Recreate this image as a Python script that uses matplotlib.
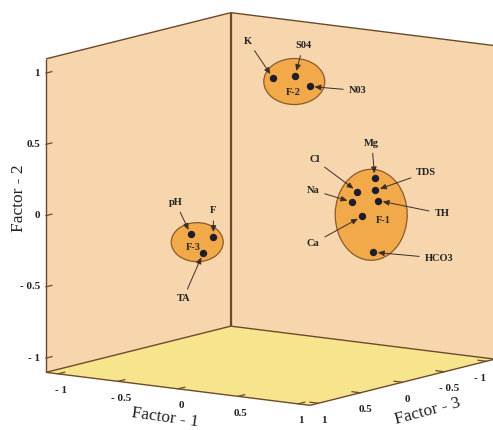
import numpy as np
import matplotlib
matplotlib.use('Agg')
import matplotlib.pyplot as plt
from matplotlib.patches import Polygon, Ellipse

# factor loadings (Factor-1, Factor-2, Factor-3)
names = ['Mg', 'Cl', 'TDS', 'Na', 'TH', 'Ca', 'HCO3',
         'K', 'S04', 'N03',
         'pH', 'F', 'TA']
f1 = [0.94, 0.76, 0.93, 0.68, 0.98, 0.80, 0.96,
      0.05, 0.15, 0.25,
      -0.07, 0.05, 0.00]
f2 = [0.33, 0.21, 0.24, 0.12, 0.18, 0.04, -0.18,
      0.93, 0.94, 0.87,
      -0.06, -0.08, -0.19]
f3 = [0.10, 0.05, 0.08, 0.00, 0.12, 0.05, 0.15,
      0.04, -0.08, -0.11,
      0.85, 0.75, 0.80]

groups = ['F-1', 'F-2', 'F-3']
group_f1 = [0.91, 0.15, -0.05]
group_f2 = [0.07, 0.90, -0.12]
group_f3 = [0.10, -0.07, 0.80]

ticks = [-1, -0.5, 0, 0.5, 1]
tick_labels = ['- 1', '- 0.5', '0', '0.5', '1']

# label offsets (pixels) from the points
lab_dx = [-3, -43, 51, -39, 64, -49, 66, -25, 8, 48, -15, 0, -20]
lab_dy = [-35, -32, -18, -12, 13, 27, 6, -37, -30, 4, -32, -26, 46]
ell_w = [72, 61, 52]
ell_h = [91, 46, 39]

L = 1.1
WALL = '#f7d6ae'
FLOOR = '#f6e58c'
BLOB = '#f2a94a'
EDGE = '#6b4a2a'
serif = ['Liberation Serif', 'DejaVu Serif']


def proj(a, b, c):
    # pseudo 3D view: screen pixels from (factor1, factor2, factor3)
    a, b, c = np.asarray(a, float), np.asarray(b, float), np.asarray(c, float)
    x = 270.4 + 120 * a - 84 * c
    y = 209 + 15 * a + 21 * c - 142.5 * b
    return x, y


fig = plt.figure(figsize=(4.93, 4.30), dpi=100)
ax = fig.add_axes([0, 0, 1, 1])
ax.set_xlim(0, 493)
ax.set_ylim(430, 0)
ax.axis('off')

left = proj([-L, -L, -L, -L], [-L, L, L, -L], [L, L, -L, -L])
right = proj([-L, -L, L, L], [-L, L, L, -L], [-L, -L, -L, -L])
floor = proj([-L, L, L, -L], [-L, -L, -L, -L], [L, L, -L, -L])
for (px, py), col in [(left, WALL), (right, WALL), (floor, FLOOR)]:
    ax.add_patch(Polygon(np.column_stack([px, py]), closed=True,
                         facecolor=col, edgecolor='none'))

# box edges
edges = [((-L, -L, L), (-L, L, L), 1.0), ((-L, L, L), (-L, L, -L), 1.0),
         ((-L, L, -L), (L, L, -L), 1.0), ((-L, -L, -L), (-L, L, -L), 1.6),
         ((-L, -L, L), (-L, -L, -L), 1.0), ((-L, -L, -L), (L, -L, -L), 1.0),
         ((-L, -L, L), (L, -L, L), 1.0), ((L, -L, L), (L, -L, -L), 1.0)]
for p, q, lw in edges:
    ex, ey = proj([p[0], q[0]], [p[1], q[1]], [p[2], q[2]])
    ax.plot(ex, ey, color=EDGE, lw=lw, solid_capstyle='butt')

# ticks and tick labels
for t, tl in zip(ticks, tick_labels):
    # factor 2 on left edge
    tx, ty = proj([-L, -L], [t, t], [L, L - 0.07])
    ax.plot(tx, ty, color=EDGE, lw=0.9)
    ax.text(tx[0] - 6, ty[0], tl, ha='right', va='center', fontsize=8,
            fontweight='bold', family=serif, color='#222222')
    # factor 1 along front-left floor edge
    tx, ty = proj([t, t], [-L, -L], [L, L - 0.08])
    ax.plot(tx, ty, color=EDGE, lw=0.9)
    ax.text(tx[0] + 3, ty[0] + 17, tl, ha='center', va='center', fontsize=8,
            fontweight='bold', family=serif, color='#222222')
    # factor 3 along front-right floor edge (tick labels reversed: 1 at front)
    tx, ty = proj([L, L - 0.07], [-L, -L], [t, t])
    ax.plot(tx, ty, color=EDGE, lw=0.9)
    lx = min(tx[0] + 5, 480)
    ax.text(lx, ty[0] + 17, tl, ha='center', va='center', fontsize=8,
            fontweight='bold', family=serif, color='#222222')

ax.text(19, 198, 'Factor - 2', rotation=90, ha='center', va='center',
        fontsize=12.5, family=serif, color='#222222')
ax.text(165, 418, 'Factor - 1', rotation=-8, ha='center', va='center',
        fontsize=12.5, family=serif, color='#222222')
ax.text(428, 411, 'Factor - 3', rotation=15, ha='center', va='center',
        fontsize=12.5, family=serif, color='#222222')

# group ellipses
gx, gy = proj(group_f1, group_f2, group_f3)
gl_dx = [12, -1, -4]
gl_dy = [6, 11, 5]
for i, g in enumerate(groups):
    ax.add_patch(Ellipse((gx[i], gy[i]), ell_w[i], ell_h[i], facecolor=BLOB,
                         edgecolor='#8a5a2a', lw=0.9))
    ax.text(gx[i] + gl_dx[i], gy[i] + gl_dy[i], g, ha='center', va='center',
            fontsize=7.5, fontweight='bold', family=serif, color='#2a2a2a')

# variables
sx, sy = proj(f1, f2, f3)
ax.plot(sx, sy, 'o', color='#1d1d2b', ms=4.3, zorder=5)
for i, n in enumerate(names):
    ax.annotate(n, xy=(sx[i], sy[i]), xytext=(sx[i] + lab_dx[i], sy[i] + lab_dy[i]),
                ha='center', va='center', fontsize=7.5, fontweight='bold',
                family=serif, color='#222222',
                arrowprops=dict(arrowstyle='-|>,head_length=0.5,head_width=0.22',
                                color='#3a2e28', lw=0.7, shrinkA=2, shrinkB=3.5))

fig.savefig('out.png', dpi=100)
